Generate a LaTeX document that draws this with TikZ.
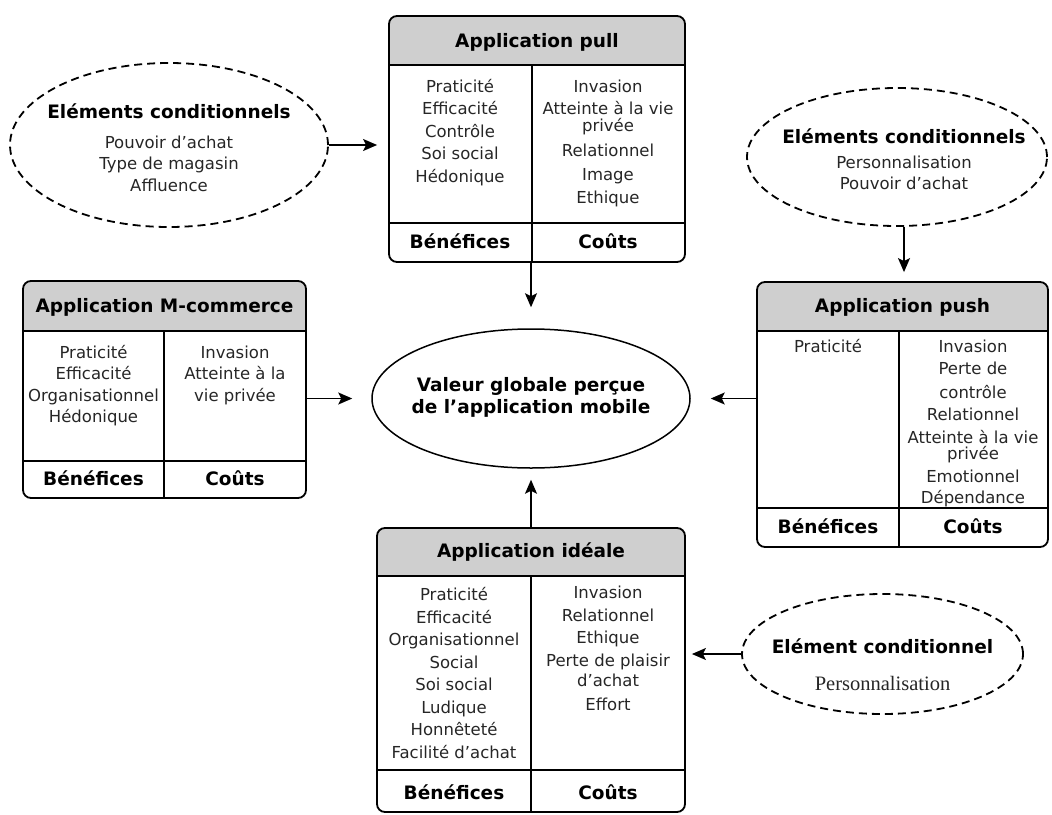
\documentclass[tikz,border=0pt]{standalone}
\usepackage{fontspec}
\setmainfont{DejaVu Sans}
\newfontfamily\seriffont{Liberation Serif}
\usetikzlibrary{shapes, arrows.meta, positioning}
\definecolor{headgrey}{gray}{0.81}
\definecolor{bodytext}{gray}{0.15}
\tikzstyle{appbox} = [rectangle, draw, line width=1.8pt, rounded corners=8pt, inner sep=0pt]
\tikzstyle{cond} = [ellipse, draw, dash pattern=on 8pt off 5pt, line width=1.8pt, inner sep=0pt]
\tikzstyle{valeurell} = [ellipse, draw, line width=1.5pt, inner sep=0pt]
\tikzstyle{arrow} = [-{Stealth[length=14pt, width=12pt, inset=3pt]}, line width=1.5pt]
\tikzstyle{divider} = [line width=1.5pt]
\tikzstyle{boxtitle} = [anchor=base, inner sep=0pt, font=\bfseries\fontsize{18.5}{22}\selectfont]
\tikzstyle{cell} = [anchor=base, inner sep=0pt, align=center, text=bodytext, font=\fontsize{16.5}{22.5}\selectfont]
\newcommand{\condtitle}[1]{{\color{black}\bfseries\fontsize{18.5}{22}\selectfont #1}}

\begin{document}
\begin{tikzpicture}[x=1pt, y=-1pt]
    \useasboundingbox (0,0) rectangle (1052,814);

    % grey headers
    \begin{scope}
        \clip[rounded corners=8pt] (389,16) rectangle (685,262);
        \fill[headgrey] (389,16) rectangle (685,65);
    \end{scope}
    \begin{scope}
        \clip[rounded corners=8pt] (757,282) rectangle (1048,547);
        \fill[headgrey] (757,282) rectangle (1048,331);
    \end{scope}
    \begin{scope}
        \clip[rounded corners=8pt] (23,281) rectangle (306,498);
        \fill[headgrey] (23,281) rectangle (306,331);
    \end{scope}
    \begin{scope}
        \clip[rounded corners=8pt] (377,528) rectangle (685,812);
        \fill[headgrey] (377,528) rectangle (685,576);
    \end{scope}

    % application boxes
    \node (pull) [appbox, minimum width=296pt, minimum height=246pt] at (537,139) {};
    \node (push) [appbox, minimum width=291pt, minimum height=265pt] at (902.5,414.5) {};
    \node (mcomm) [appbox, minimum width=283pt, minimum height=217pt] at (164.5,389.5) {};
    \node (ideal) [appbox, minimum width=308pt, minimum height=284pt] at (531,670) {};

    \draw [divider] (389,65) -- (685,65);
    \draw [divider] (389,223) -- (685,223);
    \draw [divider] (532,65) -- (532,262);

    \draw [divider] (757,331) -- (1048,331);
    \draw [divider] (757,508) -- (1048,508);
    \draw [divider] (899,331) -- (899,547);

    \draw [divider] (23,331) -- (306,331);
    \draw [divider] (23,461) -- (306,461);
    \draw [divider] (164,331) -- (164,498);

    \draw [divider] (377,576) -- (685,576);
    \draw [divider] (377,770) -- (685,770);
    \draw [divider] (531,576) -- (531,812);

    % application pull (cells sit on their last baseline)
    \node (pullhead) [boxtitle] at (537,47) {Application pull};
    \node (pullben) [cell] at (460,182) {Praticité\\Efficacité\\Contrôle\\Soi social\\Hédonique};
    \node (pullcost) [cell] at (608,203) {Invasion\\Atteinte à la vie\\[-5.5pt]privée\\[2pt]Relationnel\\[2pt]Image\\Ethique};
    \node (pullbenf) [boxtitle] at (460,248) {Bénéfices};
    \node (pullcostf) [boxtitle] at (608,248) {Coûts};

    % application push
    \node (pushhead) [boxtitle] at (902.5,312) {Application push};
    \node (pushben) [cell] at (828,352) {Praticité};
    \node (pushcost) [cell] at (973,503) {Invasion\\Perte de\\[1pt]contrôle\\Relationnel\\Atteinte à la vie\\[-6pt]privée\\Emotionnel\\[-1.5pt]Dépendance};
    \node (pushbenf) [boxtitle] at (828,533.5) {Bénéfices};
    \node (pushcostf) [boxtitle] at (973,533.5) {Coûts};

    % application m-commerce
    \node (mcommhead) [boxtitle] at (164.5,312) {Application M-commerce};
    \node (mcommben) [cell] at (93.5,422.7) {Praticité\\[-1pt]Efficacité\\[-1pt]Organisationnel\\[-1pt]Hédonique};
    \node (mcommcost) [cell] at (235,401) {Invasion\\[-1pt]Atteinte à la\\[-1pt]vie privée};
    \node (mcommbenf) [boxtitle] at (93.5,485.5) {Bénéfices};
    \node (mcommcostf) [boxtitle] at (235,485.5) {Coûts};

    % application ideale
    \node (idealhead) [boxtitle] at (531,557) {Application idéale};
    \node (idealben) [cell] at (454,758) {Praticité\\Efficacité\\Organisationnel\\Social\\Soi social\\Ludique\\Honnêteté\\Facilité d’achat};
    \node (idealcost) [cell] at (608,710.7) {Invasion\\Relationnel\\Ethique\\Perte de plaisir\\[-2.5pt]d’achat\\[2pt]Effort};
    \node (idealbenf) [boxtitle] at (454,799.5) {Bénéfices};
    \node (idealcostf) [boxtitle] at (608,799.5) {Coûts};

    % centre and conditions
    \node (valeur) [valeurell, minimum width=318pt, minimum height=139pt] at (531,398.5) {};
    \node (valeurtext) [anchor=base, inner sep=0pt, align=center, font=\bfseries\fontsize{18.5}{22}\selectfont] at (531,413.5)
        {Valeur globale perçue\\de l’application mobile};

    \node (condA) [cond, minimum width=318pt, minimum height=164pt] at (169,145) {};
    \node (condAtext) [anchor=base, inner sep=0pt, align=center, text=bodytext, font=\fontsize{16.5}{21.5}\selectfont] at (169,191)
        {\condtitle{Eléments conditionnels}\\[8pt]Pouvoir d’achat\\Type de magasin\\Affluence};

    \node (condB) [cond, minimum width=300pt, minimum height=138pt] at (897,157) {};
    \node (condBtext) [anchor=base, inner sep=0pt, align=center, text=bodytext, font=\fontsize{16.5}{20.5}\selectfont] at (904,189)
        {\condtitle{Eléments conditionnels}\\[5pt]Personnalisation\\Pouvoir d’achat};

    \node (condC) [cond, minimum width=281pt, minimum height=120pt] at (882.5,654) {};
    \node (condCtext) [anchor=base, inner sep=0pt, align=center, text=bodytext, font=\fontsize{16.5}{21.5}\selectfont] at (882.5,690)
        {\condtitle{Elément conditionnel}\\[15pt]{\seriffont\fontsize{20.5}{22}\selectfont Personnalisation}};

    % arrows
    \draw [arrow, shorten >=11pt] (condA.east) -- (pull.west |- condA.east);
    \draw [arrow, shorten >=21pt] (valeur.north |- pull.south) -- (valeur.north);
    \draw [arrow, shorten >=19pt] (mcomm.east |- valeur.west) -- (valeur.west);
    \draw [arrow, shorten >=20pt] (push.west |- valeur.east) -- (valeur.east);
    \draw [arrow, shorten >=11pt] (ideal.north) -- (valeur.south);
    \draw [arrow, shorten >=9pt] ([xshift=7pt]condB.south) -- ([xshift=7pt]condB.south |- push.north);
    \draw [arrow, shorten >=6pt] (condC.west) -- (ideal.east |- condC.west);

\end{tikzpicture}
\end{document}
